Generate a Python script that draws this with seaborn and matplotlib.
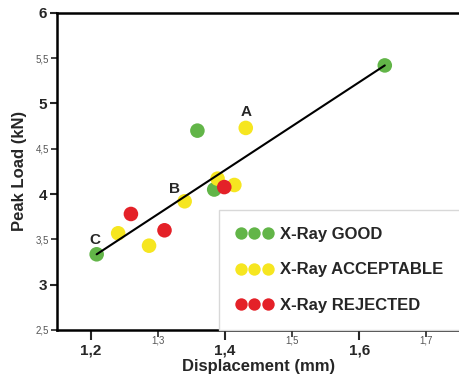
import pandas as pd
import matplotlib.pyplot as plt
import seaborn as sns

# data
good_x = [1.638, 1.359, 1.384, 1.209]
good_y = [5.42, 4.70, 4.05, 3.335]
acc_x = [1.431, 1.389, 1.414, 1.340, 1.241, 1.287]
acc_y = [4.73, 4.17, 4.10, 3.92, 3.567, 3.43]
rej_x = [1.399, 1.260, 1.310]
rej_y = [4.077, 3.78, 3.60]
fit_x = [1.209, 1.638]
fit_y = [3.335, 5.42]

groups = ["X-Ray GOOD", "X-Ray ACCEPTABLE", "X-Ray REJECTED"]
colors = ["#62b548", "#f6e620", "#e42128"]

x_major = [1.2, 1.4, 1.6]
x_major_lab = ["1,2", "1,4", "1,6"]
x_minor = [1.3, 1.5, 1.7]
x_minor_lab = ["1,3", "1,5", "1,7"]
y_major = [3, 4, 5, 6]
y_major_lab = ["3", "4", "5", "6"]
y_minor = [2.5, 3.5, 4.5, 5.5]
y_minor_lab = ["2,5", "3,5", "4,5", "5,5"]

df = pd.DataFrame({
    "x": good_x + acc_x + rej_x,
    "y": good_y + acc_y + rej_y,
    "grade": [groups[0]] * len(good_x) + [groups[1]] * len(acc_x) + [groups[2]] * len(rej_x),
})

sns.set_style("white")
plt.rcParams['font.family'] = ['Liberation Sans', 'DejaVu Sans']

fig = plt.figure(figsize=(4.6, 3.9), dpi=100)
ax = fig.add_axes([0.124, 0.154, 0.876, 0.813])

sns.scatterplot(data=df, x="x", y="y", hue="grade", hue_order=groups,
                palette=dict(zip(groups, colors)), s=110, linewidth=0,
                ax=ax, zorder=2)
ax.plot(fit_x, fit_y, color="black", lw=1.5, zorder=3)

# point labels
ax.text(1.431, 4.83, "A", fontsize=11, fontweight="bold", ha="center", va="bottom")
ax.text(1.333, 3.98, "B", fontsize=11, fontweight="bold", ha="right", va="bottom")
ax.text(1.206, 3.42, "C", fontsize=11, fontweight="bold", ha="center", va="bottom")

ax.set_xlim(1.15, 1.75)
ax.set_ylim(2.5, 6)

ax.set_xticks(x_major)
ax.set_xticklabels(x_major_lab, fontsize=11, fontweight="bold")
ax.set_xticks(x_minor, minor=True)
ax.set_xticklabels(x_minor_lab, minor=True, fontsize=7, color="#555555")
ax.set_yticks(y_major)
ax.set_yticklabels(y_major_lab, fontsize=11, fontweight="bold")
ax.set_yticks(y_minor, minor=True)
ax.set_yticklabels(y_minor_lab, minor=True, fontsize=7, color="#555555")

ax.tick_params(axis="x", which="major", direction="out", length=7, width=1.5, pad=3, bottom=True)
ax.tick_params(axis="x", which="minor", direction="out", length=5, width=1.2, pad=-1, bottom=True)
ax.tick_params(axis="y", which="major", direction="out", length=5, width=1.5, pad=2, left=True)
ax.tick_params(axis="y", which="minor", direction="out", length=4, width=1.2, pad=2, left=True)

for side in ["left", "bottom", "top"]:
    ax.spines[side].set_linewidth(1.8)
    ax.spines[side].set_color("black")
ax.spines["right"].set_visible(False)

ax.set_xlabel("Displacement (mm)", fontsize=12, fontweight="bold", labelpad=1)
ax.set_ylabel("Peak Load (kN)", fontsize=12, fontweight="bold", labelpad=6)

handles, labels = ax.get_legend_handles_labels()
ax.legend(handles, labels, numpoints=3, markerscale=0.85, loc="lower right",
          bbox_to_anchor=(1.0, 0.0), borderaxespad=0, frameon=True, fancybox=False,
          edgecolor="#d8d8d8", framealpha=1, borderpad=1.0, labelspacing=1.25,
          handlelength=2.2, handletextpad=0.45, prop={"size": 12, "weight": "bold"})

fig.savefig("out.png", dpi=100)
